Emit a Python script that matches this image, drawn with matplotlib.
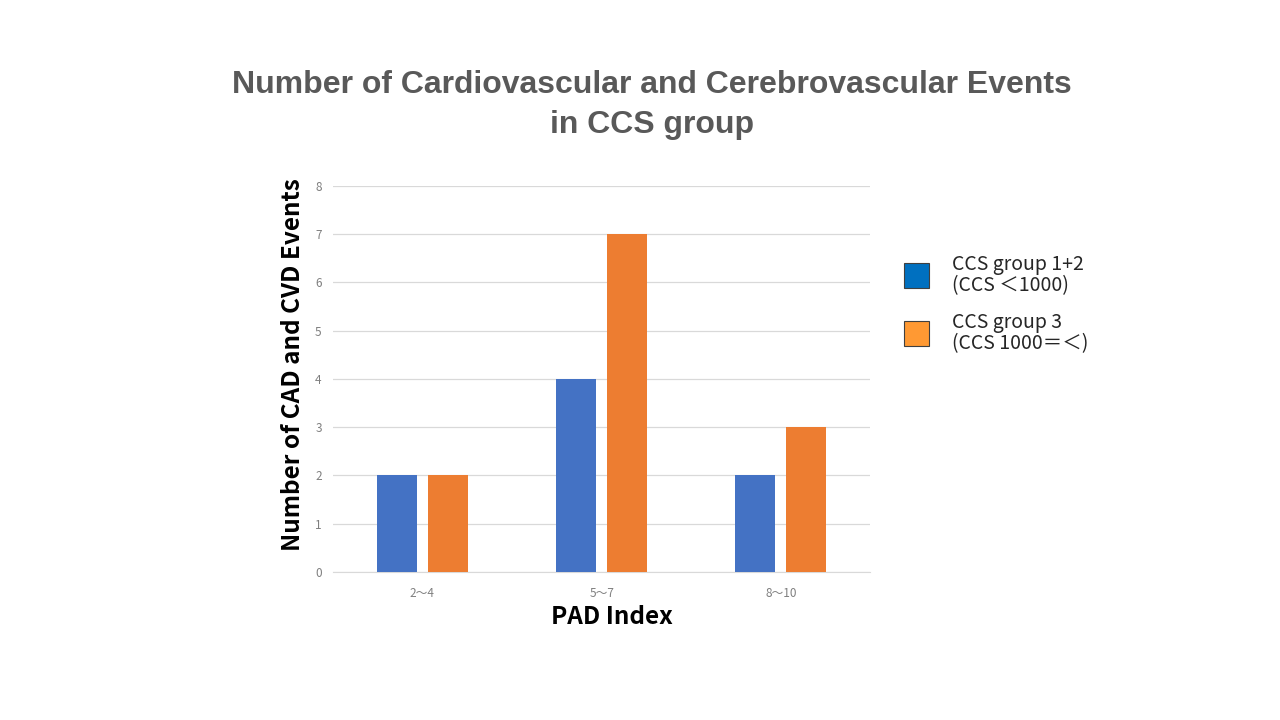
import matplotlib
matplotlib.use("Agg")
import matplotlib.pyplot as plt
import numpy as np
from matplotlib.patches import Rectangle

plt.rcParams['font.family'] = ['Noto Sans CJK JP', 'DejaVu Sans']

categories = ["2～4", "5～7", "8～10"]
group_12 = [2, 4, 2]
group_3 = [2, 7, 3]
labels = ["CCS group 1+2\n(CCS ＜1000)", "CCS group 3\n(CCS 1000＝＜)"]

fig = plt.figure(figsize=(12.8, 7.2), dpi=100)
ax = fig.add_axes([0.260, 0.2056, 0.420, 0.5361])

x = np.arange(len(categories))
w = 0.223
ax.bar(x - 0.142, group_12, w, color="#4472C4", zorder=3)
ax.bar(x + 0.142, group_3, w, color="#ED7D31", zorder=3)

ax.set_xlim(-0.5, 2.5)
ax.set_ylim(0, 8)
ax.set_yticks(range(0, 9))
ax.set_xticks(x)
ax.set_xticklabels(categories)
ax.grid(axis="y", color="#D9D9D9", linewidth=0.9, zorder=0)
for s in ["top", "right", "left"]:
    ax.spines[s].set_visible(False)
ax.spines["bottom"].set_color("#D9D9D9")
ax.tick_params(length=0, labelsize=8.5, colors="#7F7F7F", pad=8)
ax.tick_params(axis="x", pad=11)

# axis titles
fig.text(293 / 1280, 1 - 365 / 720, "Number of CAD and CVD Events", rotation=90,
         ha="center", va="center", fontsize=17.5, fontweight="bold", color="black")
fig.text(612 / 1280, 1 - 617 / 720, "PAD Index", ha="center", va="center",
         fontsize=17.5, fontweight="bold", color="black")

fig.text(652 / 1280, 1 - 105 / 720, "Number of Cardiovascular and Cerebrovascular Events\nin CCS group",
         ha="center", va="center", fontsize=23, fontweight="bold", color="#595959",
         family="Liberation Sans", linespacing=1.42)

# legend drawn as separate entries
leg_colors = ["#0070C0", "#FF9933"]
leg_y = [1 - 275 / 720, 1 - 333 / 720]
for c, yy, lab in zip(leg_colors, leg_y, labels):
    fig.patches.append(Rectangle((904 / 1280, yy - 12.5 / 720), 25 / 1280, 25 / 720,
                                 transform=fig.transFigure, facecolor=c,
                                 edgecolor="#404040", linewidth=0.8))
    fig.text(952 / 1280, yy, lab, ha="left", va="center", fontsize=14,
             color="#262626", linespacing=1.05)

fig.savefig("out.png", dpi=100)
